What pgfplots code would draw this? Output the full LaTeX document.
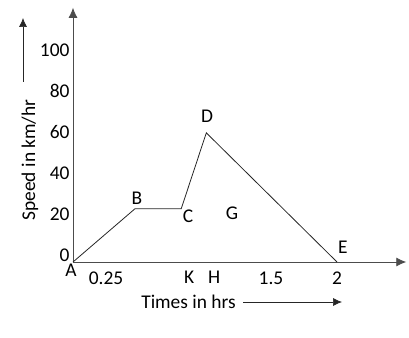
\documentclass[border=0pt]{standalone}
\usepackage{pgfplots}
\pgfplotsset{compat=1.18}
\usepackage{fontspec}
\setmainfont{Carlito}
\usetikzlibrary{arrows.meta}

\newcommand{\lbl}{\fontsize{19.5}{21}\selectfont}

\begin{document}
\begin{tikzpicture}
\begin{axis}[
  at={(0,0)}, anchor=origin,
  x=132bp, y=2.05bp,
  xmin=0, xmax=2.525, ymin=0, ymax=124,
  axis lines=left,
  axis line style={line width=0.8bp, draw=black!70,
    -{Latex[length=10bp,width=9bp]}},
  xtick={0.25,0.88,1.07,1.5,2},
  xticklabels={0.25,K,H,1.5,2},
  ytick={0,20,40,60,80,100},
  major tick length=0pt,
  tick style={draw=none},
  /pgf/number format/assume math mode=true,
  ticklabel style={font=\lbl, text=black},
  yticklabel style={yshift=7bp},
  xticklabel style={yshift=-6bp},
  clip=false,
]
% speed-time graph A-B-C-D-E
\addplot[black!85, line width=0.8bp] coordinates {
  (0,0) (0.47,26) (0.82,26) (1.01,63) (2,0)
};
\node[font=\lbl, inner sep=0pt] at (axis cs:-0.015,-4.2) {A};
\node[font=\lbl] at (axis cs:0.485,31.2) {B};
\node[font=\lbl] at (axis cs:0.871,22.2) {C};
\node[font=\lbl] at (axis cs:1.015,71.2) {D};
\node[font=\lbl] at (axis cs:1.205,23.8) {G};
\node[font=\lbl] at (axis cs:2.045,7.0) {E};
\end{axis}
% axis titles with pointer arrows
\node[font=\lbl, rotate=90] at (-43bp,102bp) {Speed in km/hr};
\draw[black!85, line width=0.7bp, -{Latex[length=9bp,width=8bp]}] (-50bp,180bp) -- (-50bp,244bp);
\node[font=\lbl] at (115.5bp,-40bp) {Times in hrs};
\draw[black!85, line width=0.7bp, -{Latex[length=9bp,width=8bp]}] (170bp,-40bp) -- (269bp,-40bp);
\pgfresetboundingbox
\path (-73bp,-76bp) rectangle (336bp,262bp);
\end{tikzpicture}
\end{document}
